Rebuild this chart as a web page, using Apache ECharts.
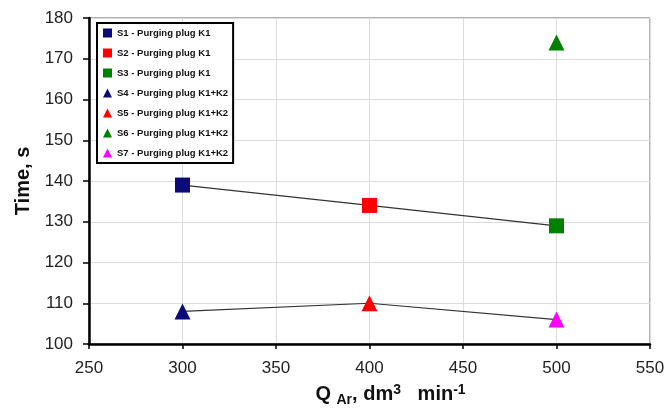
<!DOCTYPE html>
<html>
<head>
<meta charset="utf-8">
<script src="https://cdn.jsdelivr.net/npm/echarts@6/dist/echarts.min.js"></script>
<style>html,body{margin:0;padding:0;background:#fff}#main{width:669px;height:414px}</style>
</head>
<body>
<div id="main"></div>
<script>
// data
var names = ['S1 - Purging plug K1', 'S2 - Purging plug K1', 'S3 - Purging plug K1',
  'S4 - Purging plug K1+K2', 'S5 - Purging plug K1+K2', 'S6 - Purging plug K1+K2', 'S7 - Purging plug K1+K2'];
var flow = [300, 400, 500, 300, 400, 500, 500];
var time = [139, 134, 129, 108, 110, 174, 106];
var colors = ['#0a0a78', '#ff0000', '#008000', '#0a0a78', '#ff0000', '#008000', '#ff00ff'];
var shapes = ['rect', 'rect', 'rect', 'triangle', 'triangle', 'triangle', 'triangle'];
// connected points (index into arrays above)
var lineK1 = [0, 1, 2];
var lineK12 = [3, 4, 6];

var myChart = echarts.init(document.getElementById('main'));
var font = 'Liberation Sans, Arial';

var series = [];
function connector(idx) {
  return {
    type: 'line', silent: true, symbol: 'none', z: 1,
    lineStyle: { color: '#333', width: 1.2 },
    data: idx.map(function (i) { return [flow[i], time[i]]; })
  };
}
series.push(connector(lineK1));
series.push(connector(lineK12));
for (var i = 0; i < names.length; i++) {
  series.push({
    type: 'scatter', name: names[i], z: 3,
    symbol: shapes[i], symbolSize: shapes[i] == 'rect' ? 15 : 16,
    itemStyle: { color: colors[i], opacity: 1 },
    data: [[flow[i], time[i]]]
  });
}

var option = {
  animation: false,
  grid: { left: 89, right: 19, top: 18, bottom: 70, show: true, borderColor: '#666', borderWidth: 1 },
  legend: {
    orient: 'vertical', left: 97, top: 23,
    data: names.map(function (n, i) { return { name: n, icon: shapes[i] }; }),
    itemWidth: 9, itemHeight: 9, itemGap: 10,
    padding: [5, 5, 5, 6],
    borderColor: '#000', borderWidth: 2, backgroundColor: '#fff',
    textStyle: { fontSize: 9.5, fontWeight: 'bold', color: '#111', fontFamily: font }
  },
  xAxis: {
    type: 'value', min: 250, max: 550, interval: 50,
    axisLine: { lineStyle: { color: '#000', width: 2.5 } },
    axisTick: { show: true, length: 5, lineStyle: { color: '#000', width: 1.5 } },
    axisLabel: { fontSize: 17, color: '#222', margin: 16, fontFamily: font },
    splitLine: { lineStyle: { color: '#dcdcdc' } },
    name: '{q|Q }{s|Ar}{b|, dm}{p|3}{b|   min}{p|-1}',
    nameLocation: 'middle', nameGap: 38,
    nameTextStyle: {
      padding: [0, 0, 0, 42],
      rich: {
        q: { fontSize: 20, fontWeight: 'bold', color: '#111', fontFamily: font },
        b: { fontSize: 20, fontWeight: 'bold', color: '#111', fontFamily: font },
        s: { fontSize: 14, fontWeight: 'bold', color: '#111', padding: [11, 0, 0, 0], fontFamily: font },
        p: { fontSize: 14, fontWeight: 'bold', color: '#111', padding: [0, 0, 9, 0], fontFamily: font }
      }
    }
  },
  yAxis: {
    type: 'value', min: 100, max: 180, interval: 10,
    axisLine: { show: true, lineStyle: { color: '#000', width: 2.5 } },
    axisTick: { show: true, length: 6, lineStyle: { color: '#000', width: 1.5 } },
    axisLabel: { fontSize: 17, color: '#222', margin: 16, fontFamily: font },
    splitLine: { lineStyle: { color: '#dcdcdc' } },
    name: 'Time, s', nameLocation: 'middle', nameGap: 54, nameRotate: 90,
    nameTextStyle: { fontSize: 20, fontWeight: 'bold', color: '#111', fontFamily: font }
  },
  series: series
};
myChart.setOption(option);
</script>
</body>
</html>
